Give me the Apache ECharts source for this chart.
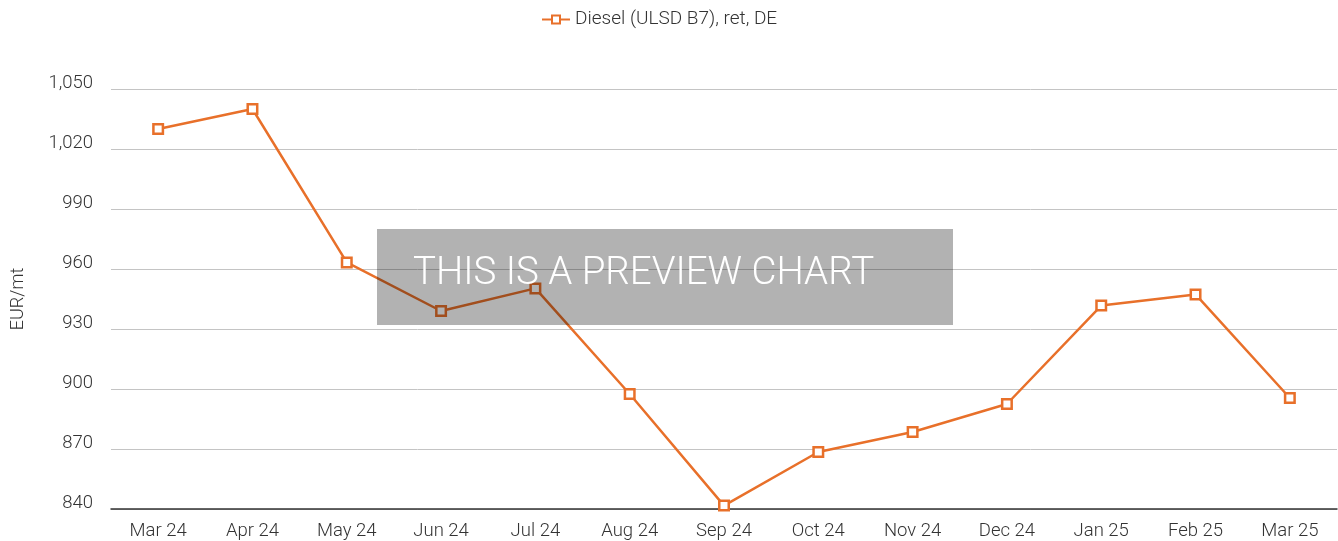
<!DOCTYPE html>
<html>
<head>
<meta charset="utf-8">
<script src="https://cdn.jsdelivr.net/npm/echarts@6/dist/echarts.min.js"></script>
<style>
  html, body { margin: 0; padding: 0; background: #fff; }
  #chart { width: 1338px; height: 541px; }
</style>
</head>
<body>
<div id="chart"></div>
<script>
// months on the x axis
const months = ['Mar 24', 'Apr 24', 'May 24', 'Jun 24', 'Jul 24', 'Aug 24', 'Sep 24',
  'Oct 24', 'Nov 24', 'Dec 24', 'Jan 25', 'Feb 25', 'Mar 25'];
// Diesel (ULSD B7), ret, DE  - EUR/mt
const diesel = [1030, 1040, 963.3, 939, 950.3, 897.5, 841.7, 868.5, 878.5, 892.5, 941.7, 947.3, 895.5];
const seriesName = 'Diesel (ULSD B7), ret, DE';
const yTicks = [840, 870, 900, 930, 960, 990, 1020, 1050];

const orange = '#E8702A';
const chart = echarts.init(document.getElementById('chart'));

const option = {
  animation: false,
  textStyle: { fontFamily: 'Roboto' },
  legend: {
    data: [seriesName],
    top: 5,
    left: 536,
    itemWidth: 28,
    itemHeight: 10,
    itemGap: 6,
    textStyle: { color: '#333', fontSize: 19, fontWeight: 300, fontFamily: 'Roboto' },
  },
  grid: {
    left: 111,
    right: 1,
    top: 89,
    bottom: 32,
  },
  xAxis: {
    type: 'category',
    data: months,
    boundaryGap: true,
    axisLine: { lineStyle: { color: '#333', width: 1.5 } },
    axisTick: { show: false },
    axisLabel: { color: '#333', fontSize: 18.5, fontWeight: 300, margin: 13 },
  },
  yAxis: {
    type: 'value',
    min: yTicks[0],
    max: yTicks[yTicks.length - 1],
    interval: 30,
    name: 'EUR/mt',
    nameLocation: 'middle',
    nameGap: 84,
    nameTextStyle: { color: '#333', fontSize: 18, fontWeight: 300 },
    axisLine: { show: false },
    axisTick: { show: false },
    axisLabel: {
      color: '#333',
      fontSize: 18.5,
      fontWeight: 300,
      margin: 18,
      verticalAlign: 'bottom',
      lineHeight: 12,
      formatter: v => v.toLocaleString('en-US'),
    },
    splitLine: { lineStyle: { color: '#c4c4c4', width: 1 } },
  },
  series: [
    {
      name: seriesName,
      type: 'line',
      data: diesel,
      symbol: 'rect',
      symbolSize: 9.5,
      color: orange,
      lineStyle: { color: orange, width: 2.5 },
      itemStyle: { color: '#fff', borderColor: orange, borderWidth: 2.5 },
      z: 2,
    },
  ],
  graphic: [
    {
      type: 'rect',
      left: 377,
      top: 229,
      shape: { width: 576, height: 96 },
      style: { fill: 'rgba(0,0,0,0.3)' },
      z: 100,
    },
    {
      type: 'text',
      left: 413,
      top: 255,
      style: {
        text: 'THIS IS A PREVIEW CHART',
        fill: '#fff',
        fontSize: 38.5,
        fontWeight: 300,
        fontFamily: 'Roboto',
      },
      z: 101,
    },
  ],
};

chart.setOption(option);
</script>
</body>
</html>
